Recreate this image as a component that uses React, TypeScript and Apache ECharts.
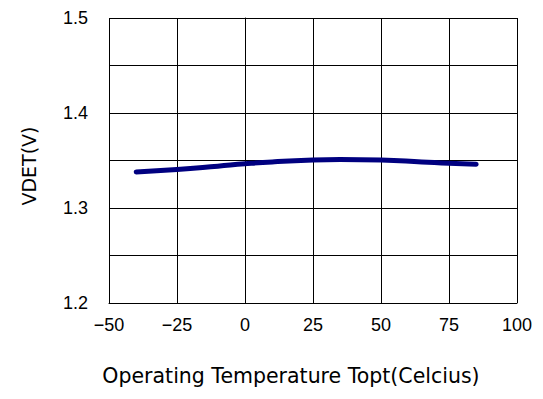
import React, { useEffect, useRef } from "react";
import * as echarts from "echarts";

const temperatures = [-40, -25, -10, 0, 10, 25, 35, 50, 65, 75, 85];
const vdet = [1.338, 1.3405, 1.344, 1.3465, 1.3485, 1.3505, 1.351, 1.3505, 1.3485, 1.347, 1.346];
const xTicks = [-50, 100];
const yTicks = [1.2, 1.5];

const FONT = "'Liberation Sans', Arial, sans-serif";
const NAME_FONT = "'DejaVu Sans', sans-serif";

export default function App() {
  const ref = useRef<HTMLDivElement>(null);
  useEffect(() => {
    if (!ref.current) return;
    const chart = echarts.init(ref.current, null, { renderer: "svg" });
    const data = temperatures.map((t, i) => [t, vdet[i]]);
    chart.setOption({
      animation: false,
      backgroundColor: "#ffffff",
      grid: { left: 101, top: 10, width: 410, height: 293, containLabel: false },
      xAxis: {
        type: "value",
        min: xTicks[0],
        max: xTicks[1],
        interval: 25,
        name: "Operating Temperature Topt(Celcius)",
        nameLocation: "middle",
        nameGap: 62,
        nameTextStyle: {
          color: "#000",
          fontSize: 20.5,
          fontFamily: NAME_FONT,
          padding: [0, 44, 0, 0],
        },
        axisLine: { show: true, lineStyle: { color: "#000", width: 1 } },
        axisTick: { show: false },
        axisLabel: {
          color: "#000",
          fontSize: 18,
          fontFamily: FONT,
          margin: 13,
          formatter: (v: number) => (v < 0 ? "\u2212" + Math.abs(v) : String(v)),
        },
        splitLine: { show: true, lineStyle: { color: "#000", width: 1 } },
      },
      yAxis: {
        type: "value",
        min: yTicks[0],
        max: yTicks[1],
        interval: 0.05,
        name: "VDET(V)",
        nameLocation: "middle",
        nameGap: 71,
        nameRotate: 90,
        nameTextStyle: {
          color: "#000",
          fontSize: 19,
          fontFamily: NAME_FONT,
          padding: [0, 11, 0, 0],
        },
        axisLine: { show: true, lineStyle: { color: "#000", width: 1 } },
        axisTick: { show: false },
        axisLabel: {
          color: "#000",
          fontSize: 18,
          fontFamily: FONT,
          margin: 21,
          formatter: (v: number) => {
            const r = Math.round(v * 100);
            return r % 10 === 0 ? (r / 100).toFixed(1) : "";
          },
        },
        splitLine: { show: true, lineStyle: { color: "#000", width: 1 } },
      },
      series: [
        {
          type: "line",
          data,
          smooth: true,
          showSymbol: false,
          lineStyle: { color: "#000080", width: 5, cap: "round" },
        },
      ],
    });
    return () => chart.dispose();
  }, []);
  return <div ref={ref} style={{ width: 527, height: 383 }} />;
}
